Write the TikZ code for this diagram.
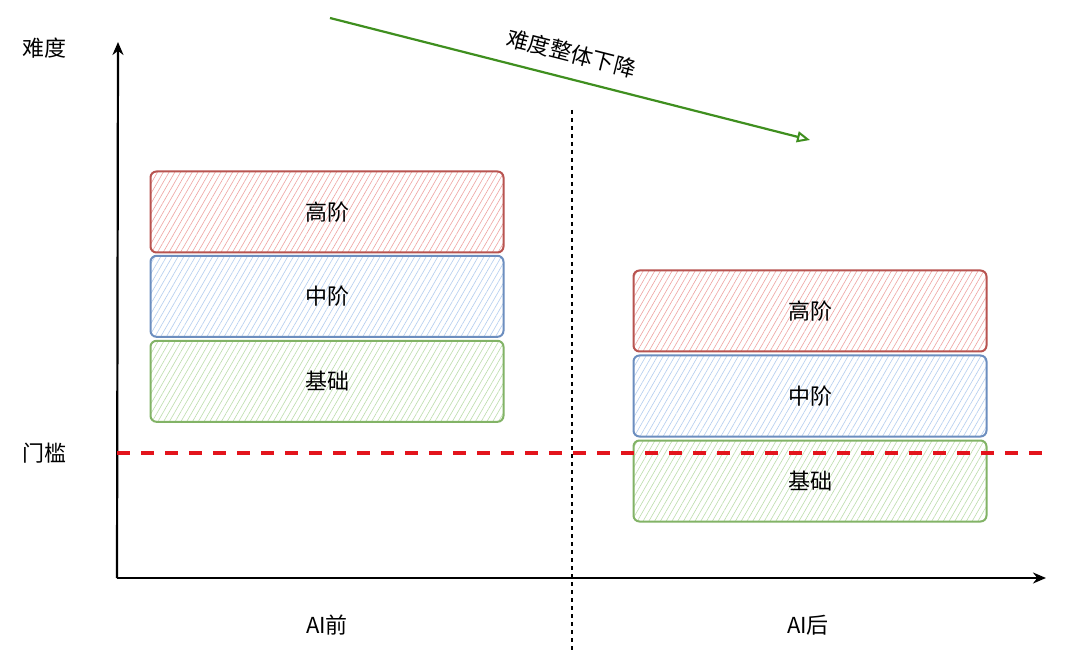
\documentclass[tikz,border=0pt]{standalone}
\usepackage{fontspec}
\setmainfont{Noto Sans CJK SC}
\usetikzlibrary{arrows.meta, positioning, patterns.meta}
\definecolor{lvHigh}{HTML}{B85450}
\definecolor{lvHighFill}{HTML}{EFA3A1}
\definecolor{lvMid}{HTML}{6C8EBF}
\definecolor{lvMidFill}{HTML}{B3CDEF}
\definecolor{lvBase}{HTML}{82B366}
\definecolor{lvBaseFill}{HTML}{BCDDAC}
\definecolor{trendGreen}{HTML}{3F8F1F}
\definecolor{limitRed}{HTML}{E3141C}
\tikzset{
  lvbox/.style={
    draw, line width=2pt, rounded corners=6pt, minimum width=353pt,
    minimum height=81pt, inner sep=0pt, font=\fontsize{22}{24}\selectfont
  },
  high/.style={lvbox, draw=lvHigh, pattern={Lines[angle=60, distance=5pt, line width=0.6pt]}, pattern color=lvHighFill},
  mid/.style={lvbox, draw=lvMid, pattern={Lines[angle=60, distance=5pt, line width=0.6pt]}, pattern color=lvMidFill},
  base/.style={lvbox, draw=lvBase, pattern={Lines[angle=60, distance=5pt, line width=0.6pt]}, pattern color=lvBaseFill},
  axis/.style={-{Stealth[length=13pt, width=11pt]}, line width=2.2pt, black},
  trend/.style={-{Triangle[open, length=13pt, width=11pt, line width=2pt]}, line width=2.2pt, trendGreen},
  threshold/.style={line width=3.5pt, limitRed, dash pattern=on 13pt off 11pt},
  divider/.style={line width=1.3pt, black, dash pattern=on 4pt off 4pt},
  lbl/.style={font=\fontsize{22}{24}\selectfont, text=black, inner sep=1pt}
}
\begin{document}
\begin{tikzpicture}[x=1pt, y=-1pt]
  \useasboundingbox[fill=white] (0,0) rectangle (1080,655);
  % axes
  \coordinate (o) at (117,578);
  \coordinate (ytop) at (118,42);
  \coordinate (xend) at (1046,578);
  \draw[axis] (o) -- (ytop);
  \draw[axis] (o) -- (xend);
  \node[lbl] (yname) at (45,48) {难度};
  \node[lbl] (gate) at (45,453) {门槛};
  % divider
  \coordinate (divT) at (572,110);
  \coordinate (divB) at (572,652);
  \draw[divider] (divT) -- (divB);
  % before AI
  \node[high] (hiA) at (327,212) {高阶};
  \node[mid, below=2pt of hiA] (midA) {中阶};
  \node[base, below=2pt of midA] (baseA) {基础};
  % after AI
  \node[high] (hiB) at (810,311) {高阶};
  \node[mid, below=2pt of hiB] (midB) {中阶};
  \node[base, below=2pt of midB] (baseB) {基础};
  % threshold
  \coordinate (gateL) at (117,453);
  \coordinate (gateR) at (1048,453);
  \draw[threshold] (gateL) -- (gateR);
  % trend
  \coordinate (trS) at (330,18);
  \coordinate (trE) at (810,140);
  \draw[trend] (trS) -- node[lbl, sloped, above=13pt, pos=0.49] (trtxt) {难度整体下降} (trE);
  \node[lbl] (before) at (327,625) {AI前};
  \node[lbl] (after) at (808,625) {AI后};
\end{tikzpicture}
\end{document}
